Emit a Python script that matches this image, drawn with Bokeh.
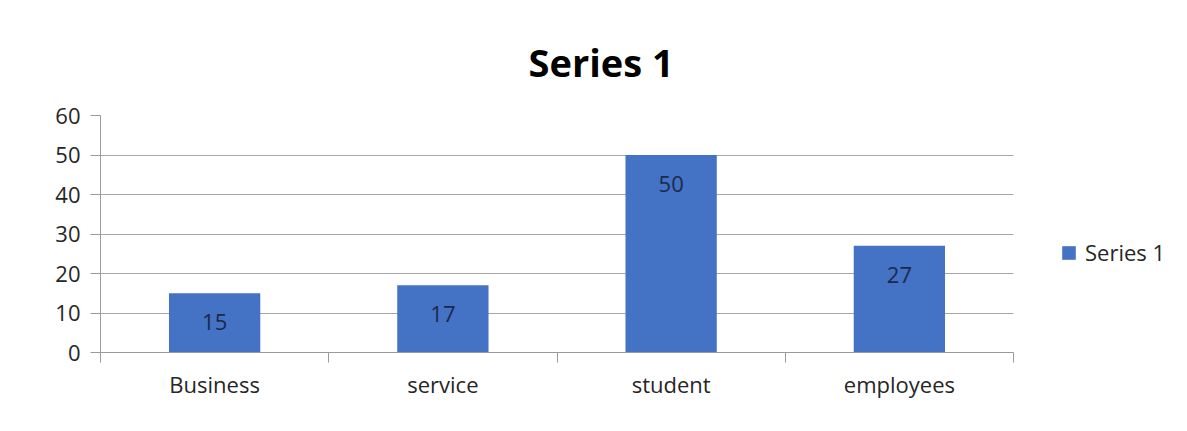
from bokeh.plotting import figure
from bokeh.models import Range1d, FixedTicker, Legend, LegendItem, ColumnDataSource
from bokeh.core.properties import value
from bokeh.embed import file_html
from bokeh.resources import INLINE

categories = ["Business", "service", "student", "employees"]
values = [15, 17, 50, 27]
y_ticks = [0, 10, 20, 30, 40, 50, 60]
series_name = "Series 1"

FONT = "Open Sans"
BLUE = "#4472C4"
GRID = "#A6A6A6"

W, H = 1187, 431
LEFT, RIGHT_EDGE, TOP, BOTTOM = 100, 1013, 115, 79
n = len(categories)
# the frame spans to the right edge; the chart body (categories) ends at RIGHT_EDGE
x_end = n * (W - LEFT) / (RIGHT_EDGE - LEFT)

xs = [i + 0.5 for i in range(n)]
src = ColumnDataSource(dict(x=xs, top=values, label=[str(v) for v in values]))

p = figure(width=W, height=H, output_backend="svg", toolbar_location=None,
           x_range=Range1d(0, x_end), y_range=Range1d(0, 60),
           min_border_left=LEFT, min_border_right=0, min_border_top=TOP, min_border_bottom=BOTTOM,
           title=series_name)
p.outline_line_color = None
p.background_fill_color = "white"
p.border_fill_color = "white"

p.title.text_font = FONT
p.title.text_font_size = "38px"
p.title.text_font_style = "bold"
p.title.text_color = "#000000"
p.title.align = "left"
p.title.offset = 428
p.title.standoff = 55

bars = p.vbar(x="x", top="top", width=0.4, source=src, color=BLUE, line_color=None)
p.text(x="x", y="top", text="label", source=src, y_offset=29, text_align="center",
       text_baseline="middle", text_font=value(FONT), text_font_size="22px", text_color="#1B2A4A")

# x axis: category boundaries as minor ticks, labels at centres
p.xaxis.bounds = (0, n)
p.xaxis.ticker = FixedTicker(ticks=xs, minor_ticks=list(range(n + 1)))
p.xaxis.major_label_overrides = {x: c for x, c in zip(xs, categories)}
p.xaxis.major_tick_line_color = None
p.xaxis.major_tick_out = 0
p.xaxis.major_tick_in = 0
p.xaxis.minor_tick_out = 10
p.xaxis.minor_tick_in = 0
p.xaxis.minor_tick_line_color = "#9A9A9A"
p.xaxis.axis_line_color = "#9A9A9A"
p.xaxis.major_label_standoff = 6
p.xaxis.major_label_text_font = FONT
p.xaxis.major_label_text_font_size = "22px"
p.xaxis.major_label_text_color = "#262626"

p.yaxis.ticker = FixedTicker(ticks=y_ticks)
p.yaxis.major_tick_out = 10
p.yaxis.major_tick_in = 0
p.yaxis.minor_tick_line_color = None
p.yaxis.major_tick_line_color = "#9A9A9A"
p.yaxis.axis_line_color = "#9A9A9A"
p.yaxis.major_label_standoff = 10
p.yaxis.major_label_text_font = FONT
p.yaxis.major_label_text_font_size = "22px"
p.yaxis.major_label_text_color = "#262626"

p.xgrid.grid_line_color = None
p.ygrid.ticker = FixedTicker(ticks=y_ticks)
p.ygrid.grid_line_color = GRID
p.ygrid.cross_bounds = (0, n)

legend = Legend(items=[LegendItem(label=series_name, renderers=[bars])],
                location=(960, 85), padding=0, margin=0, border_line_color=None,
                background_fill_alpha=0, glyph_width=17, glyph_height=17,
                label_text_font=FONT, label_text_font_size="22px", label_text_color="#262626",
                label_standoff=8)
p.add_layout(legend)

open("out.html", "w").write(file_html(p, INLINE))
